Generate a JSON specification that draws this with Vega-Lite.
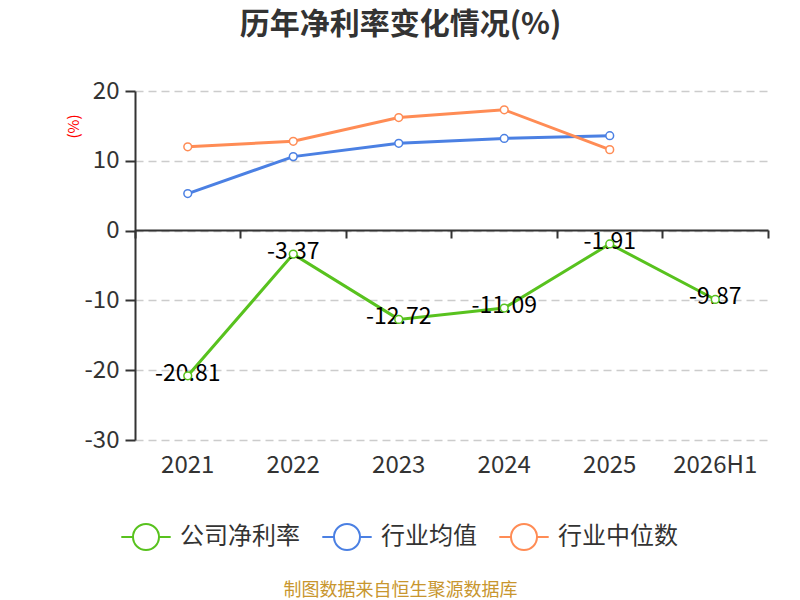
{
  "$schema": "https://vega.github.io/schema/vega-lite/v6.json",
  "width": 633,
  "height": 349,
  "autosize": {"type": "none"},
  "padding": {"left": 135, "top": 91, "right": 32, "bottom": 160},
  "background": "white",
  "config": {
    "font": "Noto Sans CJK SC",
    "view": {"stroke": null},
    "legend": {"symbolFillColor": "white"}
  },
  "title": {
    "text": "历年净利率变化情况(%)",
    "fontSize": 30,
    "fontWeight": "bold",
    "color": "#333333",
    "anchor": "middle",
    "frame": "group",
    "dx": -51,
    "offset": 39
  },
  "data": {
    "values": [
      {"year": "2021", "series": "公司净利率", "value": -20.81},
      {"year": "2022", "series": "公司净利率", "value": -3.37},
      {"year": "2023", "series": "公司净利率", "value": -12.72},
      {"year": "2024", "series": "公司净利率", "value": -11.09},
      {"year": "2025", "series": "公司净利率", "value": -1.91},
      {"year": "2026H1", "series": "公司净利率", "value": -9.87},
      {"year": "2021", "series": "行业均值", "value": 5.3},
      {"year": "2022", "series": "行业均值", "value": 10.6},
      {"year": "2023", "series": "行业均值", "value": 12.5},
      {"year": "2024", "series": "行业均值", "value": 13.2},
      {"year": "2025", "series": "行业均值", "value": 13.6},
      {"year": "2021", "series": "行业中位数", "value": 12.0},
      {"year": "2022", "series": "行业中位数", "value": 12.8},
      {"year": "2023", "series": "行业中位数", "value": 16.2},
      {"year": "2024", "series": "行业中位数", "value": 17.3},
      {"year": "2025", "series": "行业中位数", "value": 11.6}
    ]
  },
  "encoding": {
    "y": {
      "field": "value",
      "type": "quantitative",
      "scale": {"domain": [-30, 20], "nice": false, "zero": false},
      "axis": {
        "values": [-30, -20, -10, 0, 10, 20],
        "labelExpr": "toString(datum.value)",
        "title": "(%)",
        "titleColor": "#ff0000",
        "titleFontSize": 15,
        "titleFontWeight": "normal",
        "titleAngle": -90,
        "titleX": -62,
        "titleY": 35,
        "titleAlign": "center",
        "titleBaseline": "middle",
        "labelFontSize": 24,
        "labelColor": "#333333",
        "labelPadding": 6,
        "tickSize": 10,
        "tickColor": "#333333",
        "tickWidth": 2,
        "domainColor": "#333333",
        "domainWidth": 2,
        "grid": true,
        "gridColor": "#cccccc",
        "gridDash": [8, 5],
        "gridWidth": 1.5
      }
    },
    "color": {
      "field": "series",
      "type": "nominal",
      "scale": {
        "domain": ["公司净利率", "行业均值", "行业中位数"],
        "range": ["#58c21e", "#4b80e3", "#ff8c55"]
      },
      "legend": {
        "title": null,
        "orient": "none",
        "direction": "horizontal",
        "legendX": -3,
        "legendY": 432,
        "symbolType": "M-1.9,0L-1,0M1,0L1.9,0M1,0A1,1,0,1,1,-1,0A1,1,0,1,1,1,0",
        "symbolSize": 676,
        "symbolStrokeWidth": 2,
        "symbolFillColor": "white",
        "labelFontSize": 24,
        "labelColor": "#333333",
        "labelOffset": 20,
        "columnPadding": 18,
        "labelLimit": 300
      }
    }
  },
  "layer": [
    {
      "mark": {"type": "line", "strokeWidth": 3},
      "encoding": {
        "x": {
          "field": "year",
          "type": "nominal",
          "sort": null,
          "bandPosition": 0.5,
          "scale": {"type": "band", "paddingInner": 0, "paddingOuter": 0},
          "axis": {
            "orient": "bottom",
            "offset": -210,
            "title": null,
            "labels": false,
            "domain": true,
            "domainColor": "#333333",
            "domainWidth": 2,
            "ticks": true,
            "tickColor": "#333333",
            "tickWidth": 2,
            "tickSize": 8,
            "bandPosition": 1,
            "tickExtra": true,
            "grid": false
          }
        }
      }
    },
    {
      "transform": [{"filter": "datum.series === '公司净利率'"}],
      "mark": {"type": "text", "fontSize": 23, "color": "#000000", "dy": -2},
      "encoding": {
        "x": {
          "field": "year",
          "type": "nominal",
          "sort": null,
          "bandPosition": 0.5,
          "axis": {
            "orient": "bottom",
            "title": "制图数据来自恒生聚源数据库",
            "titleColor": "#c8962e",
            "titleFontSize": 18,
            "titleFontWeight": "normal",
            "titleX": 265,
            "titleY": 150,
            "titleAlign": "center",
            "titleBaseline": "middle",
            "labels": true,
            "labelFontSize": 24,
            "labelColor": "#333333",
            "labelPadding": 13,
            "labelAngle": 0,
            "domain": false,
            "ticks": false,
            "grid": false
          }
        },
        "text": {"field": "value", "type": "nominal"},
        "color": {"value": "#000000"}
      }
    },
    {
      "mark": {"type": "point", "shape": "circle", "filled": false, "fill": "white", "opacity": 1, "size": 60, "strokeWidth": 1.5},
      "encoding": {
        "x": {"field": "year", "type": "nominal", "sort": null, "bandPosition": 0.5, "axis": null}
      }
    }
  ],
  "resolve": {"axis": {"x": "independent"}}
}
